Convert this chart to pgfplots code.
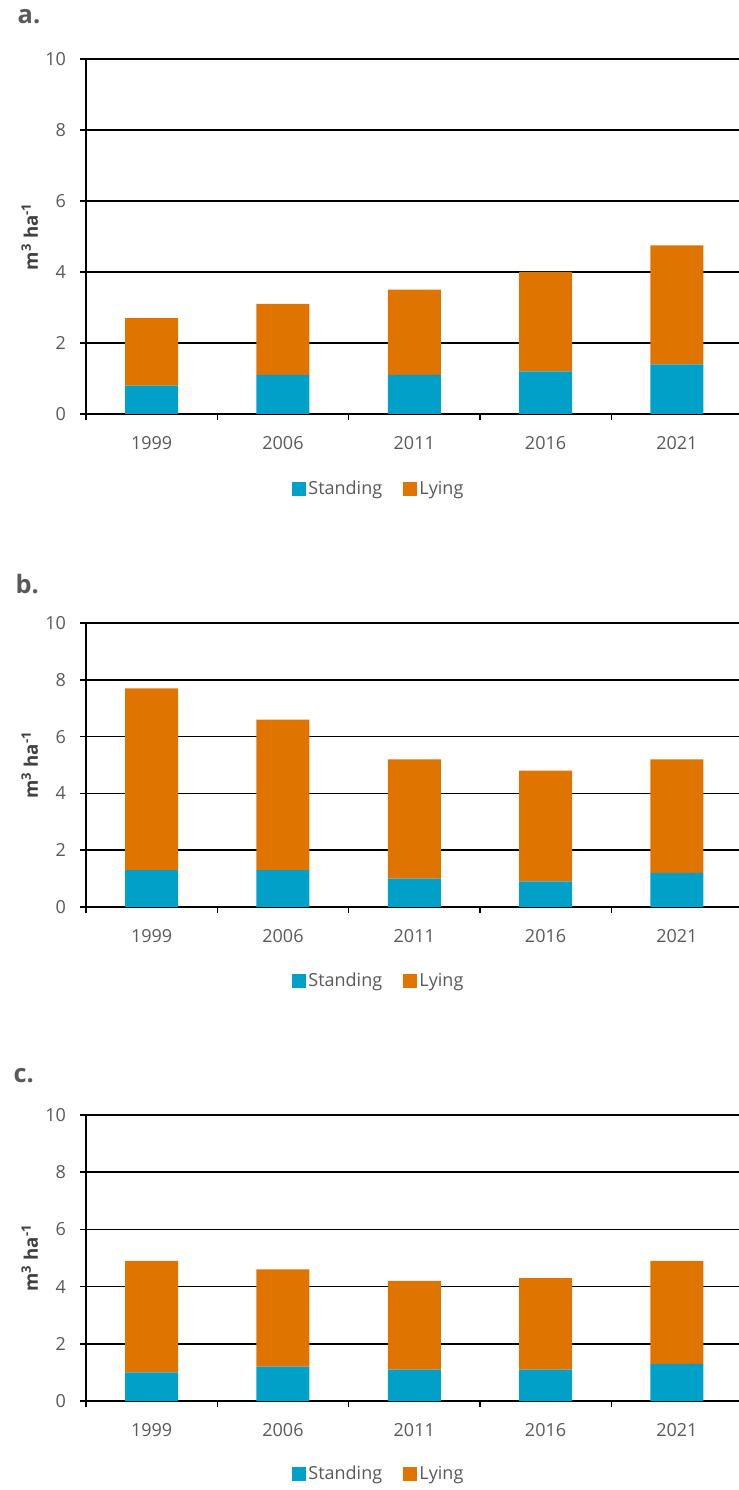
\documentclass[border=0pt]{standalone}
\usepackage{fontspec}
\setmainfont{Open Sans}
\usepackage{pgfplots}
\pgfplotsset{compat=1.18}

\definecolor{standing}{RGB}{0,160,200}
\definecolor{lying}{RGB}{224,116,0}
\definecolor{txt}{RGB}{89,89,89}
\definecolor{lab}{RGB}{64,64,64}

% year, standing, lying (m3/ha)
\pgfplotstableread{
x year standing lying
0 1999 0.8 1.9
1 2006 1.1 2.0
2 2011 1.1 2.4
3 2016 1.2 2.8
4 2021 1.4 3.35
}\dataA
\pgfplotstableread{
x year standing lying
0 1999 1.3 6.4
1 2006 1.3 5.3
2 2011 1.0 4.2
3 2016 0.9 3.9
4 2021 1.2 4.0
}\dataB
\pgfplotstableread{
x year standing lying
0 1999 1.0 3.9
1 2006 1.2 3.4
2 2011 1.1 3.1
3 2016 1.1 3.2
4 2021 1.3 3.6
}\dataC

\pgfplotsset{
  deadwood/.style={
    ybar stacked, bar width=39.75pt,
    scale only axis, width=489.75pt, anchor=south west,
    xmin=-0.5, xmax=4.473, ymin=0, ymax=10,
    ytick={0,2,...,10},
    xtick={-0.5,0.5,1.5,2.5,3.5},
    xticklabels={1999,2006,2011,2016,2021},
    xticklabel style={xshift=49.24pt, yshift=-9pt},
    yticklabel style={xshift=-7pt},
    axis lines=left, axis line style={-, line width=1.1pt, black},
    tick align=outside, major tick length=4.5pt,
    tick style={black, line width=1.1pt},
    ymajorgrids, grid style={black, line width=1.1pt},
    ticklabel style={font=\fontsize{13.5}{14}\selectfont, text=txt},
    /pgf/number format/assume math mode=true,
    ylabel={\textbf{m\textsuperscript{3} ha\textsuperscript{-1}}},
    ylabel style={at={(axis description cs:-0.086,0.5)}, anchor=center,
      font=\fontsize{14}{14}\selectfont, text=lab},
    legend columns=2,
    legend style={draw=none, font=\fontsize{13.5}{14}\selectfont, text=txt,
      /tikz/every even column/.append style={column sep=14pt}},
    legend image code/.code={\fill[##1] (0pt,-5pt) rectangle (10pt,5pt);},
  }
}

\begin{document}
\begin{tikzpicture}
\useasboundingbox (0,0) rectangle (554.25pt,1117.5pt);

\node[anchor=base west, font=\fontsize{19}{19}\selectfont\bfseries, text=txt] at (9.75pt,1099.5pt) {a.};
\node[anchor=base west, font=\fontsize{19}{19}\selectfont\bfseries, text=txt] at (8.25pt,672pt) {b.};
\node[anchor=base west, font=\fontsize{19}{19}\selectfont\bfseries, text=txt] at (6.75pt,305.25pt) {c.};

\begin{axis}[deadwood, at={(64.5pt,807pt)}, height=266.25pt,
  legend style={at={(0.449,-0.211)}, anchor=center}]
\addplot[fill=standing, draw=none] table[x=x, y=standing] {\dataA};
\addplot[fill=lying, draw=none] table[x=x, y=lying] {\dataA};
\legend{Standing, Lying}
\end{axis}

\begin{axis}[deadwood, at={(64.5pt,437.25pt)}, height=213pt,
  legend style={at={(0.449,-0.261)}, anchor=center}]
\addplot[fill=standing, draw=none] table[x=x, y=standing] {\dataB};
\addplot[fill=lying, draw=none] table[x=x, y=lying] {\dataB};
\legend{Standing, Lying}
\end{axis}

\begin{axis}[deadwood, at={(64.5pt,66.75pt)}, height=214.5pt,
  legend style={at={(0.449,-0.255)}, anchor=center}]
\addplot[fill=standing, draw=none] table[x=x, y=standing] {\dataC};
\addplot[fill=lying, draw=none] table[x=x, y=lying] {\dataC};
\legend{Standing, Lying}
\end{axis}
\end{tikzpicture}
\end{document}
